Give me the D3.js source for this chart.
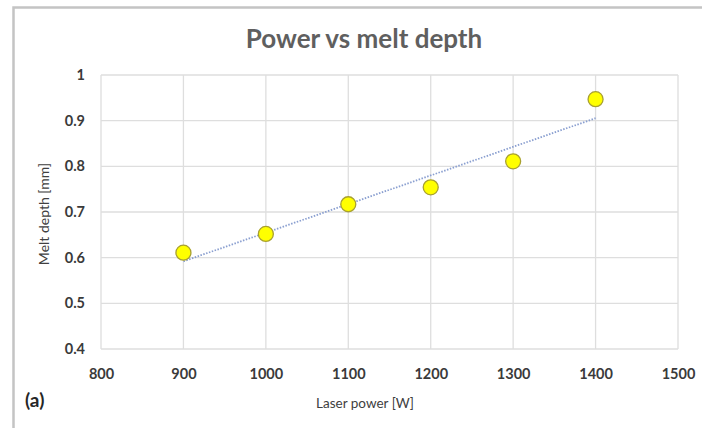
<!DOCTYPE html>
<html>
<head>
<meta charset="utf-8">
<script src="https://cdn.jsdelivr.net/npm/d3@7"></script>
<style>
  html, body { margin: 0; padding: 0; background: #fff; }
  svg { display: block; }
  text { font-family: Lato, "Open Sans", sans-serif; }
</style>
</head>
<body>
<svg id="chart" width="702" height="428"></svg>
<script>
// Laser power [W] and measured melt depth [mm]
const power = [900, 1000, 1100, 1200, 1300, 1400];
const meltDepth = [0.611, 0.652, 0.717, 0.754, 0.811, 0.947];
const xTicks = [800, 900, 1000, 1100, 1200, 1300, 1400, 1500];
const yTicks = [0.4, 0.5, 0.6, 0.7, 0.8, 0.9, 1];

const svg = d3.select("#chart");
const W = 702, H = 428;
const plot = { left: 101, right: 678, top: 75, bottom: 349 };

// Chart frame (top and left edges visible)
svg.append("rect").attr("x", 13.5).attr("y", 7.5)
  .attr("width", W).attr("height", H)
  .attr("fill", "#fff").attr("stroke", "#c4c4c4").attr("stroke-width", 2.5);

const x = d3.scaleLinear().domain([800, 1500]).range([plot.left, plot.right]);
const y = d3.scaleLinear().domain([0.4, 1]).range([plot.bottom, plot.top]);

// Gridlines
const grid = svg.append("g").attr("stroke", "#dedede").attr("stroke-width", 1.3);
grid.selectAll("line.v").data(xTicks).join("line")
  .attr("x1", d => x(d)).attr("x2", d => x(d))
  .attr("y1", plot.top).attr("y2", plot.bottom);
grid.selectAll("line.h").data(yTicks).join("line")
  .attr("x1", plot.left).attr("x2", plot.right)
  .attr("y1", d => y(d)).attr("y2", d => y(d));

// Axes (labels only)
const xAxis = svg.append("g").attr("transform", `translate(0,${plot.bottom})`)
  .call(d3.axisBottom(x).tickValues(xTicks).tickSize(0).tickPadding(20).tickFormat(d3.format("d")));
const yAxis = svg.append("g").attr("transform", `translate(${plot.left},0)`)
  .call(d3.axisLeft(y).tickValues(yTicks).tickSize(0).tickPadding(16).tickFormat(d => String(d)));
[xAxis, yAxis].forEach(a => {
  a.select(".domain").remove();
  a.selectAll("text").attr("fill", "#3a3a3a").attr("font-size", 14.5)
    .attr("font-weight", 700).style("font-family", "Lato, sans-serif");
});

// Linear trendline (least squares)
const mx = d3.mean(power), my = d3.mean(meltDepth);
const slope = d3.sum(power, (p, i) => (p - mx) * (meltDepth[i] - my)) / d3.sum(power, p => (p - mx) ** 2);
const icpt = my - slope * mx;
const ends = d3.extent(power);
svg.append("line")
  .attr("x1", x(ends[0])).attr("y1", y(icpt + slope * ends[0]))
  .attr("x2", x(ends[1])).attr("y2", y(icpt + slope * ends[1]))
  .attr("stroke", "#8a9fd0").attr("stroke-width", 1.8).attr("stroke-dasharray", "1.5,1.5");

// Data points
svg.append("g").selectAll("circle").data(power).join("circle")
  .attr("cx", d => x(d)).attr("cy", (d, i) => y(meltDepth[i]))
  .attr("r", 7.5).attr("fill", "#ffff00").attr("stroke", "#a8a030").attr("stroke-width", 1.3);

// Titles
svg.append("text").attr("x", 364).attr("y", 48).attr("text-anchor", "middle")
  .attr("font-size", 26).attr("font-weight", 700).attr("fill", "#5f5f5f")
  .text("Power vs melt depth");
svg.append("text").attr("x", 365).attr("y", 408).attr("text-anchor", "middle")
  .attr("font-size", 13.5).attr("fill", "#404040").text("Laser power [W]");
svg.append("text").attr("transform", "translate(49,214) rotate(-90)").attr("text-anchor", "middle")
  .attr("font-size", 14).attr("fill", "#404040").text("Melt depth [mm]");
svg.append("text").attr("x", 25).attr("y", 407)
  .attr("font-size", 19).attr("font-weight", 700).attr("fill", "#262626").text("(a)");
</script>
</body>
</html>
